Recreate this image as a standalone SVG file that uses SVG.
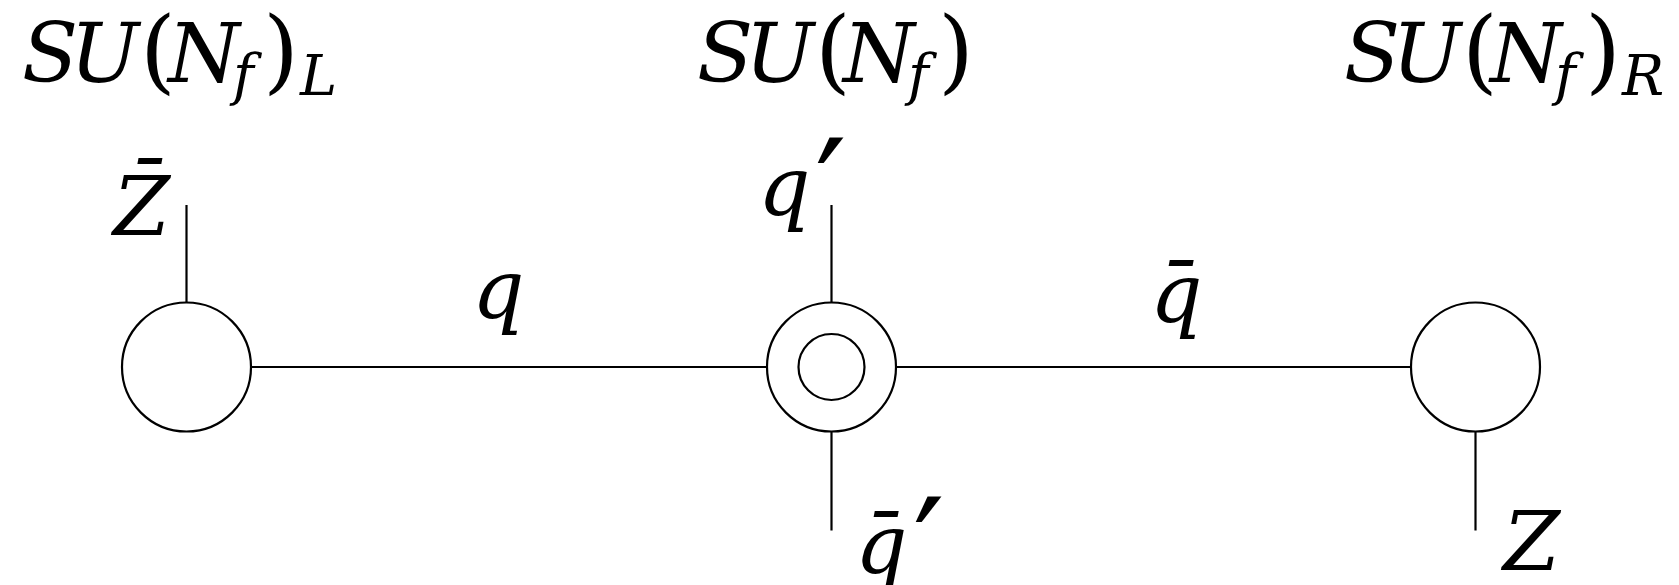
<svg xmlns="http://www.w3.org/2000/svg" width="1679" height="585" viewBox="0 0 1679 585">
<style>
.n{fill:none;stroke:#000;stroke-width:2.2}
.e{stroke:#000;stroke-width:2.2;fill:none}
.t{font-family:"DejaVu Serif",serif;font-style:italic;font-size:82px;fill:#000}
.p{font-style:normal;font-size:92px}
.s{font-size:56px}
.pr{font-family:"DejaVu Serif",serif;font-style:normal;font-size:140px;fill:#000}
</style>
<rect width="1679" height="585" fill="#fff"/>
<g id="connectors">
<line class="e" x1="251" y1="367" x2="767" y2="367"/>
<line class="e" x1="896" y1="367" x2="1411" y2="367"/>
<line class="e" x1="186.5" y1="205" x2="186.5" y2="302.5"/>
<line class="e" x1="831.5" y1="205" x2="831.5" y2="302.5"/>
<line class="e" x1="831.5" y1="431.5" x2="831.5" y2="530.5"/>
<line class="e" x1="1475.5" y1="431.5" x2="1475.5" y2="530.5"/>
</g>
<g id="node-left">
<circle class="n" cx="186.5" cy="367" r="64.5"/>
<text class="t"><tspan x="22" y="82">S</tspan><tspan x="70" y="82">U</tspan><tspan class="p" x="140" y="82">(</tspan><tspan x="168" y="82">N</tspan><tspan class="s" x="233" y="94">f</tspan><tspan class="p" x="263" y="82">)</tspan><tspan class="s" x="300" y="95">L</tspan></text>
</g>
<g id="node-middle">
<circle class="n" cx="831.5" cy="367" r="64.5"/>
<circle class="n" cx="831.5" cy="367" r="33"/>
<text class="t"><tspan x="697" y="82">S</tspan><tspan x="745" y="82">U</tspan><tspan class="p" x="815" y="82">(</tspan><tspan x="843" y="82">N</tspan><tspan class="s" x="908" y="94">f</tspan><tspan class="p" x="938" y="82">)</tspan></text>
</g>
<g id="node-right">
<circle class="n" cx="1475.5" cy="367" r="64.5"/>
<text class="t"><tspan x="1344" y="82">S</tspan><tspan x="1392" y="82">U</tspan><tspan class="p" x="1462" y="82">(</tspan><tspan x="1490" y="82">N</tspan><tspan class="s" x="1555" y="94">f</tspan><tspan class="p" x="1585" y="82">)</tspan><tspan class="s" x="1622" y="95">R</tspan></text>
</g>
<g id="labels">
<text class="t" x="113" y="235">Z̄</text>
<text class="t" x="758" y="215">q</text>
<text class="pr" x="815" y="240">′</text>
<text class="t" x="472" y="318">q</text>
<text class="t" x="1150" y="322">q̄</text>
<text class="t" x="855" y="573">q̄</text>
<text class="pr" x="913" y="599">′</text>
<text class="t" x="1503" y="570">Z</text>
</g>
</svg>
